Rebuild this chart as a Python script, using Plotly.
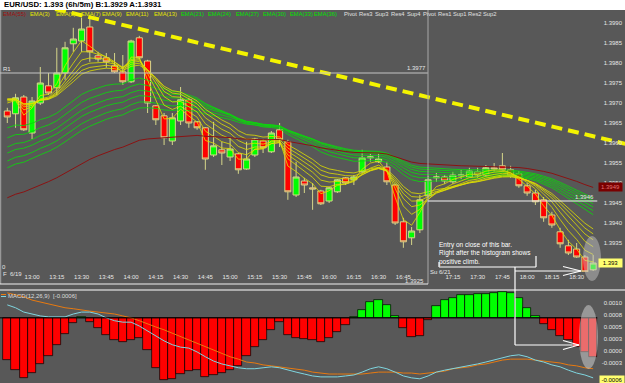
import plotly.graph_objects as go

# ---------------- data ----------------
TITLE = "EUR/USD: 1.393 (6h/5m) B:1.3929 A:1.3931"

TIME_IDX = [0, 3, 6, 9, 12, 15, 18, 21, 24, 27, 30, 33, 36, 39, 42, 45, 48, 54, 57, 60, 63, 66, 69]
TIME_LABELS = ["12:45", "13:00", "13:15", "13:30", "13:45", "14:00", "14:15", "14:30", "14:45",
               "15:00", "15:15", "15:30", "15:45", "16:00", "16:15", "16:30", "16:45",
               "17:15", "17:30", "17:45", "18:00", "18:15", "18:30"]

OPEN = [1.39680, 1.39673, 1.39715, 1.39625, 1.39700, 1.39743, 1.39738, 1.39775, 1.39848, 1.39855,
        1.39890, 1.39818, 1.39813, 1.39793, 1.39778, 1.39753, 1.39863, 1.39805, 1.39693, 1.39668,
        1.39605, 1.39655, 1.39708, 1.39653, 1.39638, 1.39570, 1.39583, 1.39565, 1.39573, 1.39535,
        1.39570, 1.39605, 1.39578, 1.39633, 1.39603, 1.39470, 1.39505, 1.39488, 1.39480, 1.39455,
        1.39478, 1.39513, 1.39508, 1.39528, 1.39563, 1.39553, 1.39540, 1.39495, 1.39403, 1.39363,
        1.39383, 1.39468, 1.39513, 1.39515, 1.39503, 1.39518, 1.39515, 1.39528, 1.39520, 1.39538,
        1.39543, 1.39533, 1.39523, 1.39493, 1.39475, 1.39458, 1.39420, 1.39378, 1.39343, 1.39335,
        1.39315, 1.39283]
HIGH = [1.39688, 1.39723, 1.39720, 1.39715, 1.39790, 1.39775, 1.39838, 1.39853, 1.39888, 1.39913,
        1.39913, 1.39828, 1.39825, 1.39825, 1.39820, 1.39858, 1.39868, 1.39808, 1.39695, 1.39675,
        1.39675, 1.39740, 1.39713, 1.39655, 1.39640, 1.39653, 1.39603, 1.39613, 1.39575, 1.39603,
        1.39613, 1.39610, 1.39630, 1.39650, 1.39608, 1.39553, 1.39513, 1.39500, 1.39483, 1.39490,
        1.39510, 1.39515, 1.39520, 1.39583, 1.39573, 1.39573, 1.39553, 1.39498, 1.39413, 1.39390,
        1.39470, 1.39518, 1.39525, 1.39520, 1.39528, 1.39533, 1.39538, 1.39538, 1.39545, 1.39550,
        1.39575, 1.39543, 1.39530, 1.39500, 1.39483, 1.39465, 1.39428, 1.39388, 1.39358, 1.39350,
        1.39320, 1.39320]
LOW = [1.39650, 1.39638, 1.39630, 1.39610, 1.39695, 1.39720, 1.39720, 1.39758, 1.39828, 1.39828,
       1.39803, 1.39803, 1.39788, 1.39775, 1.39745, 1.39750, 1.39810, 1.39675, 1.39645, 1.39595,
       1.39595, 1.39645, 1.39638, 1.39633, 1.39533, 1.39565, 1.39545, 1.39555, 1.39523, 1.39533,
       1.39565, 1.39575, 1.39575, 1.39590, 1.39458, 1.39465, 1.39475, 1.39433, 1.39445, 1.39450,
       1.39475, 1.39495, 1.39495, 1.39525, 1.39553, 1.39550, 1.39495, 1.39395, 1.39338, 1.39345,
       1.39375, 1.39463, 1.39503, 1.39498, 1.39498, 1.39510, 1.39513, 1.39513, 1.39515, 1.39528,
       1.39528, 1.39513, 1.39488, 1.39468, 1.39445, 1.39403, 1.39388, 1.39338, 1.39320, 1.39313,
       1.39278, 1.39280]
CLOSE = [1.39665, 1.39713, 1.39633, 1.39705, 1.39750, 1.39725, 1.39775, 1.39838, 1.39860, 1.39885,
         1.39828, 1.39810, 1.39803, 1.39778, 1.39753, 1.39855, 1.39813, 1.39700, 1.39658, 1.39613,
         1.39663, 1.39708, 1.39650, 1.39638, 1.39560, 1.39593, 1.39575, 1.39585, 1.39533, 1.39560,
         1.39610, 1.39588, 1.39625, 1.39608, 1.39478, 1.39515, 1.39495, 1.39485, 1.39448, 1.39488,
         1.39508, 1.39500, 1.39515, 1.39563, 1.39565, 1.39560, 1.39503, 1.39400, 1.39353, 1.39380,
         1.39458, 1.39508, 1.39515, 1.39505, 1.39520, 1.39520, 1.39530, 1.39520, 1.39538, 1.39535,
         1.39533, 1.39518, 1.39493, 1.39475, 1.39453, 1.39413, 1.39395, 1.39348, 1.39325, 1.39315,
         1.39278, 1.39300]

# EMA indicators: periods and their values at the first visible bar
EMA_YELLOW_PERIODS = [3, 5, 7, 9, 11, 13]
EMA_YELLOW_START = [1.39700, 1.39705, 1.39708, 1.39710, 1.39710, 1.39708]
EMA_GREEN_PERIODS = [21, 24, 27, 30, 33, 36]
EMA_GREEN_START = [1.39638, 1.39613, 1.39590, 1.39575, 1.39555, 1.39538]
EMA_RED_PERIOD = 55
EMA_RED_START = 1.39463

MACD_MAIN = [0.00096, 0.00090, 0.00081, 0.00077, 0.00073, 0.00071, 0.00071, 0.00071, 0.00077, 0.00081,
             0.00081, 0.00077, 0.00069, 0.00063, 0.00060, 0.00060, 0.00052, 0.00042, 0.00031, 0.00021,
             0.00013, 0.00008, 0.00006, -0.00002, -0.00012, -0.00021, -0.00027, -0.00031, -0.00035, -0.00037,
             -0.00037, -0.00035, -0.00033, -0.00035, -0.00040, -0.00044, -0.00048, -0.00052, -0.00054, -0.00054,
             -0.00054, -0.00052, -0.00050, -0.00044, -0.00037, -0.00033, -0.00037, -0.00044, -0.00052, -0.00056,
             -0.00058, -0.00052, -0.00044, -0.00040, -0.00037, -0.00033, -0.00031, -0.00027, -0.00023, -0.00019,
             -0.00015, -0.00010, -0.00008, -0.00012, -0.00019, -0.00023, -0.00029, -0.00033, -0.00040, -0.00046,
             -0.00050, -0.00056]
MACD_SIGNAL = [0.00121, 0.00117, 0.00113, 0.00106, 0.00102, 0.00098, 0.00094, 0.00090, 0.00088, 0.00085,
               0.00083, 0.00081, 0.00079, 0.00077, 0.00073, 0.00069, 0.00063, 0.00056, 0.00050, 0.00044,
               0.00037, 0.00029, 0.00023, 0.00015, 0.00008, 0.00002, -0.00006, -0.00012, -0.00017, -0.00023,
               -0.00025, -0.00029, -0.00031, -0.00033, -0.00035, -0.00037, -0.00040, -0.00044, -0.00046, -0.00048,
               -0.00048, -0.00048, -0.00048, -0.00048, -0.00046, -0.00044, -0.00044, -0.00044, -0.00046, -0.00046,
               -0.00048, -0.00046, -0.00044, -0.00042, -0.00037, -0.00035, -0.00033, -0.00029, -0.00027, -0.00023,
               -0.00019, -0.00017, -0.00017, -0.00017, -0.00019, -0.00021, -0.00023, -0.00025, -0.00029, -0.00031,
               -0.00035, -0.00037]
HIST = [-0.00087, -0.00108, -0.00125, -0.00115, -0.00096, -0.00079, -0.00056, -0.00033, -0.00010, 0.00002,
        -0.00008, -0.00021, -0.00035, -0.00046, -0.00050, -0.00046, -0.00042, -0.00067, -0.00104, -0.00129,
        -0.00127, -0.00117, -0.00110, -0.00108, -0.00123, -0.00119, -0.00115, -0.00108, -0.00100, -0.00079,
        -0.00060, -0.00046, -0.00025, -0.00008, -0.00035, -0.00042, -0.00044, -0.00046, -0.00050, -0.00042,
        -0.00029, -0.00015, 0.00002, 0.00017, 0.00033, 0.00038, 0.00027, 0.00004, -0.00021, -0.00040,
        -0.00038, -0.00004, 0.00025, 0.00038, 0.00042, 0.00048, 0.00048, 0.00050, 0.00050, 0.00052,
        0.00054, 0.00052, 0.00042, 0.00021, 0.00004, -0.00013, -0.00025, -0.00038, -0.00046, -0.00060,
        -0.00071, -0.00081]
HIST_BASE = 0.00069

PRICE_TICKS = [1.3935, 1.3940, 1.3945, 1.3950, 1.3955, 1.3960, 1.3965, 1.3970, 1.3975, 1.3980, 1.3985, 1.3990]
MACD_TICKS = [0.00125, 0.0010, 0.00075, 0.0005, 0.00025, 0.0, -0.00025]
MACD_TICK_TEXT = ["0.0013", "0.0010", "0.0008", "0.0005", "0.0003", "0.0000", "-0.0003"]

R1_LEVEL = 1.39775
PIVOT_LEVEL = 1.39455
TREND_X = [5.8, 74.9]
TREND_Y = [1.39935, 1.39598]
LAST_PRICE = 1.393
EMA55_LABEL = 1.3949
MACD_LAST = -0.0006
SESSION_BREAK = 50.95

LEGEND_ITEMS = [("EMA(55)", 2, "#a01010"), ("EMA(3)", 29, "#e6e600"), ("EMA(5)", 55, "#e6e600"),
                ("EMA(7)", 80, "#e6e600"), ("EMA(9)", 101, "#e6e600"), ("EMA(11)", 125, "#e6e600"),
                ("EMA(13)", 153, "#e6e600"), ("EMA(21)", 180, "#00e000"), ("EMA(24)", 207, "#00e000"),
                ("EMA(27)", 235, "#00e000"), ("EMA(30)", 262, "#00e000"), ("EMA(33)", 289, "#00e000"),
                ("EMA(36)", 313, "#00e000"), ("Pivot", 343, "#e0e0e0"), ("Res3", 358, "#e0e0e0"),
                ("Sup3", 374, "#e0e0e0"), ("Res4", 390, "#e0e0e0"), ("Sup4", 406, "#e0e0e0"),
                ("Pivot", 422, "#e0e0e0"), ("Res1", 437, "#e0e0e0"), ("Sup1", 452, "#e0e0e0"),
                ("Res2", 467, "#e0e0e0"), ("Sup2", 482, "#e0e0e0")]

# ---------------- layout helpers ----------------
W, H, MT = 625, 383, 10
BG = "#585858"
FONT = "Liberation Sans"
FS = 6.0


def PX(x):
    return x / W


def PY(y):
    return (H - y) / (H - MT)


def ema_series(values, period, start):
    k = 2.0 / (period + 1)
    out = [start]
    for v in values[1:]:
        out.append(out[-1] + k * (v - out[-1]))
    return out


idx = list(range(len(CLOSE)))
X_RANGE = [-0.885, 74.86]

fig = go.Figure()

fig.add_trace(go.Candlestick(
    x=idx, open=OPEN, high=HIGH, low=LOW, close=CLOSE,
    increasing=dict(fillcolor="#00ff00", line=dict(color="#d6d68a", width=1)),
    decreasing=dict(fillcolor="#ff0000", line=dict(color="#d6d68a", width=1)),
    whiskerwidth=0, xaxis="x", yaxis="y", showlegend=False, hoverinfo="skip"))

for p, s in zip(EMA_GREEN_PERIODS, EMA_GREEN_START):
    fig.add_trace(go.Scatter(x=idx, y=ema_series(CLOSE, p, s), mode="lines",
                             line=dict(color="#10d010", width=0.9), xaxis="x", yaxis="y",
                             showlegend=False, hoverinfo="skip"))
for p, s in zip(EMA_YELLOW_PERIODS, EMA_YELLOW_START):
    fig.add_trace(go.Scatter(x=idx, y=ema_series(CLOSE, p, s), mode="lines",
                             line=dict(color="#e0e000", width=0.8), xaxis="x", yaxis="y",
                             showlegend=False, hoverinfo="skip"))
fig.add_trace(go.Scatter(x=idx, y=ema_series(CLOSE, EMA_RED_PERIOD, EMA_RED_START), mode="lines",
                         line=dict(color="#8b1212", width=1), xaxis="x", yaxis="y",
                         showlegend=False, hoverinfo="skip"))

fig.add_trace(go.Scatter(x=TREND_X, y=TREND_Y, mode="lines",
                         line=dict(color="#f4f400", width=4, dash="11px,6px"),
                         xaxis="x", yaxis="y", showlegend=False, hoverinfo="skip"))

# MACD panel
fig.add_trace(go.Bar(x=idx, y=HIST, base=HIST_BASE,
                     marker=dict(color=["#00ff00" if h >= 0 else "#ff0000" for h in HIST],
                                 line=dict(color="#000000", width=0.7)),
                     xaxis="x2", yaxis="y2", showlegend=False, hoverinfo="skip"))
fig.add_trace(go.Scatter(x=idx, y=MACD_SIGNAL, mode="lines", line=dict(color="#e87a10", width=1),
                         xaxis="x2", yaxis="y2", showlegend=False, hoverinfo="skip"))
fig.add_trace(go.Scatter(x=idx, y=MACD_MAIN, mode="lines", line=dict(color="#7fd6e0", width=1),
                         xaxis="x2", yaxis="y2", showlegend=False, hoverinfo="skip"))

axis_font = dict(family=FONT, size=FS, color="#e6e6e6")

shapes = [
    dict(type="rect", xref="paper", yref="paper", x0=0, x1=1, y0=1, y1=PY(0),
         fillcolor="white", line=dict(width=0), layer="above"),
    dict(type="line", xref="paper", yref="paper", x0=PX(0.7), x1=PX(0.7), y0=PY(10), y1=PY(284),
         line=dict(color="#a8a8a8", width=1)),
    dict(type="line", xref="paper", yref="paper", x0=PX(428), x1=PX(428), y0=PY(10), y1=PY(284),
         line=dict(color="#a8a8a8", width=1)),
    dict(type="line", xref="paper", yref="paper", x0=0, x1=PX(428), y0=PY(284), y1=PY(284),
         line=dict(color="#f0f0f0", width=1.2)),
    dict(type="line", xref="paper", yref="paper", x0=0, x1=1, y0=PY(290), y1=PY(290),
         line=dict(color="#ffffff", width=1.2)),
    dict(type="line", xref="x", yref="y", x0=X_RANGE[0], x1=SESSION_BREAK, y0=R1_LEVEL, y1=R1_LEVEL,
         line=dict(color="#c4c4c4", width=1.2)),
    dict(type="line", xref="x", yref="y", x0=SESSION_BREAK, x1=71.5, y0=PIVOT_LEVEL, y1=PIVOT_LEVEL,
         line=dict(color="#f4f4f4", width=1)),
    dict(type="line", xref="x2", yref="y2", x0=X_RANGE[0], x1=71.5, y0=HIST_BASE, y1=HIST_BASE,
         line=dict(color="#000000", width=1)),
    # MACD label icon
    dict(type="line", xref="paper", yref="paper", x0=PX(1), x1=PX(6), y0=PY(294.5), y1=PY(294.5),
         line=dict(color="#e87a10", width=1)),
    dict(type="line", xref="paper", yref="paper", x0=PX(1), x1=PX(6), y0=PY(296.5), y1=PY(296.5),
         line=dict(color="#7fd6e0", width=1)),
    # highlight ellipses
    dict(type="circle", xref="paper", yref="paper", x0=PX(583), x1=PX(601), y0=PY(236), y1=PY(281),
         fillcolor="rgba(205,205,205,0.45)", line=dict(width=0), layer="above"),
    dict(type="circle", xref="paper", yref="paper", x0=PX(579), x1=PX(598), y0=PY(305), y1=PY(369),
         fillcolor="rgba(215,215,215,0.5)", line=dict(width=0), layer="above"),
    # bracket under the note
    dict(type="line", xref="paper", yref="paper", x0=PX(439), x1=PX(439), y0=PY(262), y1=PY(267),
         line=dict(color="white", width=1.2), layer="above"),
    dict(type="line", xref="paper", yref="paper", x0=PX(439), x1=PX(536), y0=PY(267), y1=PY(267),
         line=dict(color="white", width=1.2), layer="above"),
    dict(type="line", xref="paper", yref="paper", x0=PX(536), x1=PX(536), y0=PY(256), y1=PY(267),
         line=dict(color="white", width=1.2), layer="above"),
    # connector + arrows
    dict(type="line", xref="paper", yref="paper", x0=PX(515), x1=PX(515), y0=PY(267), y1=PY(345),
         line=dict(color="white", width=1.2), layer="above"),
    dict(type="line", xref="paper", yref="paper", x0=PX(515), x1=PX(581), y0=PY(271), y1=PY(271),
         line=dict(color="white", width=1.2), layer="above"),
    dict(type="line", xref="paper", yref="paper", x0=PX(563), x1=PX(581), y0=PY(266.5), y1=PY(271),
         line=dict(color="white", width=1.2), layer="above"),
    dict(type="line", xref="paper", yref="paper", x0=PX(563), x1=PX(581), y0=PY(275.5), y1=PY(271),
         line=dict(color="white", width=1.2), layer="above"),
    dict(type="line", xref="paper", yref="paper", x0=PX(515), x1=PX(579), y0=PY(345), y1=PY(345),
         line=dict(color="white", width=1.2), layer="above"),
    dict(type="line", xref="paper", yref="paper", x0=PX(563), x1=PX(579), y0=PY(340.5), y1=PY(345),
         line=dict(color="white", width=1.2), layer="above"),
    dict(type="line", xref="paper", yref="paper", x0=PX(563), x1=PX(579), y0=PY(349.5), y1=PY(345),
         line=dict(color="white", width=1.2), layer="above"),
]

ann = []
ann.append(dict(xref="paper", yref="paper", x=PX(2), y=PY(5), xanchor="left", yanchor="middle",
                text="<b>" + TITLE + "</b>", showarrow=False,
                font=dict(family=FONT, size=7.8, color="#000000")))
for t, xp, col in LEGEND_ITEMS:
    ann.append(dict(xref="paper", yref="paper", x=PX(xp), y=PY(14), xanchor="left", yanchor="middle",
                    text=t, showarrow=False, borderpad=0,
                    font=dict(family=FONT, size=5.8, color=col)))


def txt(x, y, s, anchor="left", col="#e6e6e6", xref="paper", yref="paper"):
    ann.append(dict(xref=xref, yref=yref, x=x, y=y, xanchor=anchor, yanchor="middle", text=s,
                    showarrow=False, borderpad=0, font=dict(family=FONT, size=FS, color=col)))


txt(PX(2), PY(69), "R1")
txt(PX(427), PY(68), "1.3977", anchor="right")
txt(PX(595), PY(197), "1.3946", anchor="right")
txt(PX(1), PY(267), "0")
txt(PX(2), PY(274), "F&nbsp;&nbsp;6/19")
txt(PX(429), PY(271.5), "Su 6/21")
txt(PX(425), PY(280.5), "1.3925", anchor="right")
txt(PX(7), PY(296), "MACD(12,26,9)&nbsp;&nbsp;[-0.0006]", col="#dcdcdc")
ann.append(dict(xref="paper", yref="paper", x=PX(438), y=PY(240), xanchor="left", yanchor="top",
                align="left", showarrow=False, borderpad=0,
                text="Entry on close of this bar.<br>Right after the histogram shows<br>positive climb.",
                font=dict(family=FONT, size=6.5, color="#ffffff")))

ann.append(dict(xref="paper", yref="y", x=PX(623), y=EMA55_LABEL, xanchor="right", yanchor="middle",
                text="1.3949", showarrow=False, bgcolor="#7a0000", borderpad=1, width=21,
                font=dict(family=FONT, size=FS, color="#e07070")))
ann.append(dict(xref="paper", yref="y", x=PX(623), y=LAST_PRICE, xanchor="right", yanchor="middle",
                text="1.393", showarrow=False, bgcolor="#ffff70", borderpad=1, width=21,
                font=dict(family=FONT, size=FS, color="#000000")))
ann.append(dict(xref="paper", yref="y2", x=PX(625), y=MACD_LAST, xanchor="right", yanchor="middle",
                text="-0.0006", showarrow=False, bgcolor="#ffff70", borderpad=1, width=22,
                font=dict(family=FONT, size=FS, color="#000000")))

fig.update_layout(
    width=W, height=H, margin=dict(l=0, r=0, t=MT, b=0),
    paper_bgcolor=BG, plot_bgcolor=BG, bargap=0, boxgap=0.27, boxgroupgap=0, showlegend=False,
    xaxis=dict(domain=[0, 1], range=X_RANGE, anchor="y", showgrid=False, zeroline=False,
               tickmode="array", tickvals=TIME_IDX, ticktext=TIME_LABELS, ticks="",
               tickfont=axis_font, rangeslider=dict(visible=False), showline=False),
    yaxis=dict(domain=[PY(272), 1], range=[1.392775, 1.399325], side="right",
               ticklabelposition="inside", tickmode="array", tickvals=PRICE_TICKS,
               tickformat=".4f", ticksuffix="  ", showgrid=False, zeroline=False,
               tickfont=axis_font, ticks=""),
    xaxis2=dict(domain=[0, 1], range=X_RANGE, anchor="y2", matches="x", showticklabels=False,
                showgrid=False, zeroline=False, ticks=""),
    yaxis2=dict(domain=[0, PY(290)], range=[-0.000667, 0.00127], side="right",
                ticklabelposition="inside", tickmode="array", tickvals=MACD_TICKS,
                ticktext=MACD_TICK_TEXT, ticksuffix="  ", showgrid=False, zeroline=False,
                tickfont=axis_font, ticks=""),
    shapes=shapes, annotations=ann,
)

fig.write_html("out.html")
